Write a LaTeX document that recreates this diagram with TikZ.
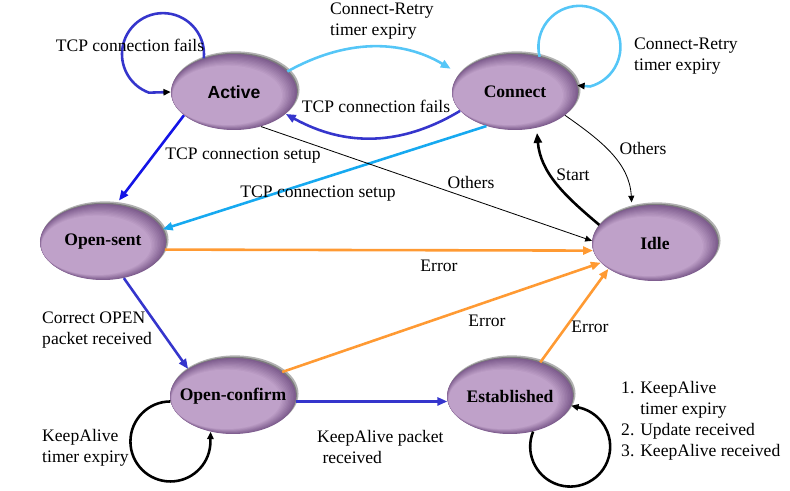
\documentclass[tikz,border=0pt]{standalone}
\usepackage{fontspec}
\setmainfont{Liberation Serif}
\setsansfont{Liberation Sans}
\usetikzlibrary{shapes.geometric, arrows.meta, shadows}

\definecolor{statelight}{HTML}{BFA1C9}
\definecolor{statedark}{HTML}{7E5D8E}
\definecolor{darkblue}{HTML}{3535CC}
\definecolor{pureblue}{HTML}{1414E6}
\definecolor{skyblue}{HTML}{55C6F7}
\definecolor{deepsky}{HTML}{16A9F0}
\definecolor{errorange}{HTML}{FF9A33}

\begin{document}
\begin{tikzpicture}[x=0.3mm, y=0.3mm,
    font=\fontsize{15}{18}\selectfont,
    state/.style={
        ellipse,
        fill=statedark,
        path picture={
            \foreach \k in {1,...,10} {
                \pgfmathtruncatemacro\mixk{\k*10}
                \fill [statelight!\mixk!statedark]
                    ([shift={(-\k*0.2mm,-\k*0.1mm)}]path picture bounding box.center)
                    ellipse [x radius=18.9mm-\k*0.25mm, y radius=11.4mm-\k*0.25mm];
            }},
        drop shadow={shadow xshift=1.6pt, shadow yshift=1.9pt,
            shadow scale=1.01, opacity=0.3, fill=black},
        drop shadow={shadow xshift=0.8pt, shadow yshift=1pt,
            opacity=0.3, fill=black},
        minimum width=37.8mm,
        minimum height=22.8mm,
        inner xsep=-4mm,
        inner ysep=0pt,
        font=\fontsize{15}{18}\selectfont\bfseries},
    arrow/.style={
        line width=2.2pt,
        -{Triangle[length=3mm, width=2.4mm]}},
    thin arrow/.style={
        line width=0.7pt,
        -{Triangle[length=2mm, width=1.8mm]}},
    loop arrow/.style={
        line width=2.2pt,
        -{Triangle[length=2.2mm, width=1.9mm, color=black]}},
    note/.style={
        align=left,
        inner sep=0pt}
    ]

    \useasboundingbox (0,0) rectangle (790,491);

    \node (active) [state, font=\fontsize{15}{18}\selectfont\sffamily\bfseries] at (234,399) {Active};
    \node (connect) [state] at (515,399) {Connect};
    \node (opensent) [state] at (103,249) {Open-sent};
    \node (idle) [state] at (655,248) {Idle};
    \node (openconfirm) [state] at (233,95) {Open-confirm};
    \node (established) [state] at (510,95) {Established};

    % loops
    \draw [loop arrow, draw=darkblue] (active.132) arc[start angle=-6, end angle=250, radius=41] -- (active.west);
    \draw [loop arrow, draw=skyblue] (connect.55) arc[start angle=194, end angle=-75, radius=41] -- (connect.6);
    \draw [loop arrow, draw=black] (openconfirm.185) arc[start angle=90, end angle=355, radius=40] -- (openconfirm.238);
    \draw [loop arrow, draw=black] (established.303) arc[start angle=158, end angle=435, radius=40] -- (established.-9);

    % transitions
    \draw [arrow, draw=skyblue, shorten >=3mm] (active.21) to [bend left=30] (connect.162);
    \draw [arrow, draw=darkblue] (connect.199) to [bend left=30] (active.337);
    \draw [arrow, draw=pureblue, shorten >=1.5mm] (active.205) -- (opensent.71);
    \draw [arrow, draw=deepsky] (connect.230) -- (opensent.12);
    \draw [thin arrow] (active.308) -- (idle.178);
    \draw [thin arrow, shorten >=1.5mm] (connect.335) to [out=-35, in=93] (idle.123);
    \draw [arrow, draw=black, shorten >=1.5mm] (idle.162) to [out=140, in=-85] (connect.301);
    \draw [arrow, draw=errorange] (opensent.-7) -- (idle.187);
    \draw [arrow, draw=errorange] (openconfirm.26) -- (idle.200);
    \draw [arrow, draw=errorange] (established.48) -- (idle.209);
    \draw [arrow, draw=darkblue] (opensent.300) -- (openconfirm.149);
    \draw [arrow, draw=darkblue] (openconfirm.-5) -- (established.185);

    % labels
    \node (failsloop) [note] at (130,446) {TCP connection fails};
    \node (retrytop) [note, anchor=west] at (330,470) {Connect-Retry\\timer expiry};
    \node (retryloop) [note, anchor=west] at (634,435) {Connect-Retry\\timer expiry};
    \node (failsback) [note] at (376,385) {TCP connection fails};
    \node (setupactive) [note] at (243,335) {TCP connection setup};
    \node (setupconnect) [note] at (318,297) {TCP connection setup};
    \node (othersactive) [note] at (471,309) {Others};
    \node (othersconnect) [note] at (643,343) {Others};
    \node (startlabel) [note] at (573,316) {Start};
    \node (errorsent) [note] at (439,225) {Error};
    \node (errorconfirm) [note] at (487,170) {Error};
    \node (errorest) [note] at (590,164) {Error};
    \node (correctopen) [note, anchor=west] at (42,161) {Correct OPEN\\packet received};
    \node (katimer) [note, anchor=west] at (42,43) {KeepAlive\\timer expiry};
    \node (kapacket) [note, anchor=west] at (317,44) {KeepAlive packet\\\hspace{0.3em}received};
    \node (events) [note, anchor=west] at (621,70) {1. KeepAlive\\\phantom{1. }timer expiry\\2. Update received\\3. KeepAlive received};

\end{tikzpicture}
\end{document}
